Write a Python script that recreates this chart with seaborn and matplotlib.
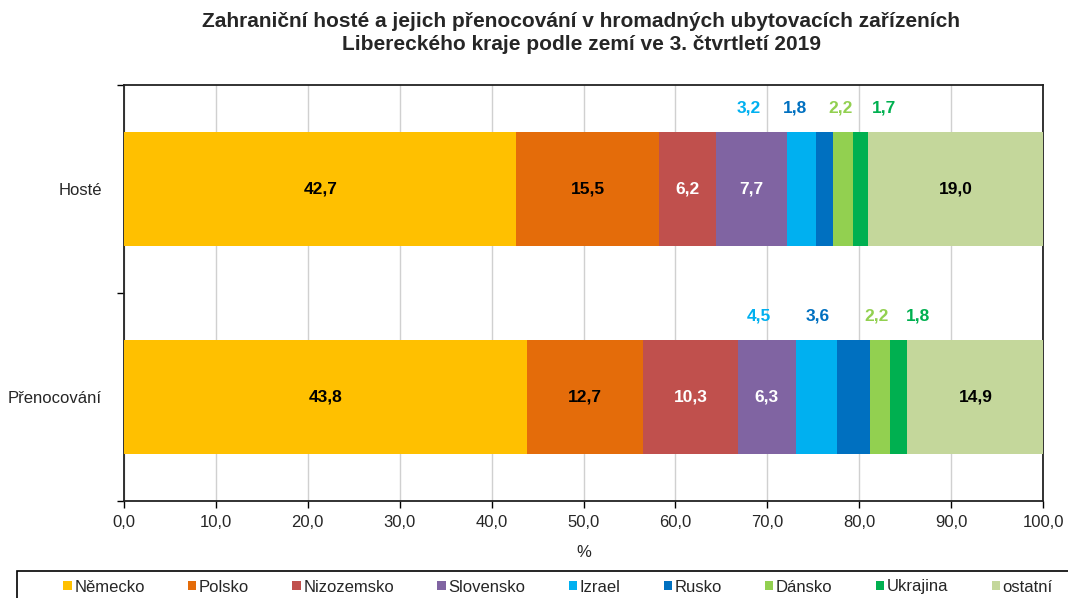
import numpy as np
import pandas as pd
import seaborn as sns
import matplotlib.pyplot as plt
from matplotlib.patches import Patch, Rectangle
from matplotlib.ticker import FuncFormatter, FixedLocator

# data
categories = ["Hosté", "Přenocování"]
countries = ["Německo", "Polsko", "Nizozemsko", "Slovensko", "Izrael",
             "Rusko", "Dánsko", "Ukrajina", "ostatní"]
hoste = [42.7, 15.5, 6.2, 7.7, 3.2, 1.8, 2.2, 1.7, 19.0]
prenocovani = [43.8, 12.7, 10.3, 6.3, 4.5, 3.6, 2.2, 1.8, 14.9]

colors = ["#FFC000", "#E46C0A", "#C0504D", "#8064A2", "#00B0F0",
          "#0070C0", "#92D050", "#00B050", "#C4D79B"]
# label colour inside the bar (None = label drawn above the bar)
inner_text = ["black", "black", "white", "white", None, None, None, None, "black"]
# horizontal shift of the outside labels (data units), per category
outside_dx = {"Hosté": [0, 0, 0, 0, -5.7, -3.2, -0.2, 2.6, 0],
              "Přenocování": [0, 0, 0, 0, -6.3, -3.9, -0.4, 2.1, 0]}

df = pd.DataFrame({"kategorie": np.repeat(categories, len(countries)),
                   "zeme": countries * 2,
                   "podil": hoste + prenocovani})
df["kumul"] = df.groupby("kategorie", sort=False)["podil"].cumsum()
df["start"] = df["kumul"] - df["podil"]

sns.set_style("white")
plt.rcParams["font.family"] = ["Liberation Sans", "DejaVu Sans"]

fig = plt.figure(figsize=(10.68, 5.98), dpi=100)
ax = fig.add_axes([124 / 1068, 1 - 501 / 598, (1043 - 124) / 1068, (501 - 85) / 598])

# stacked bars: draw cumulative totals from the last segment to the first
for i in reversed(range(len(countries))):
    sub = df[df["zeme"] == countries[i]]
    sns.barplot(data=sub, x="kumul", y="kategorie", order=categories,
                color=colors[i], width=0.55, orient="h", ax=ax,
                saturation=1, linewidth=0, zorder=3)

for _, r in df.iterrows():
    yi = categories.index(r["kategorie"])
    ci = countries.index(r["zeme"])
    txt = f"{r['podil']:.1f}".replace(".", ",")
    if inner_text[ci] is not None:
        ax.text(r["start"] + r["podil"] / 2, yi, txt, ha="center", va="center",
                fontsize=12.5, fontweight="bold", color=inner_text[ci], zorder=5)
    else:
        ax.text(r["start"] + r["podil"] / 2 + outside_dx[r["kategorie"]][ci], yi - 0.39,
                txt, ha="center", va="center", fontsize=12.5, fontweight="bold",
                color=colors[ci], zorder=5)

ax.set_xlim(0, 100)
ax.set_ylim(1.5, -0.5)
ax.set_xticks(np.arange(0, 101, 10))
ax.xaxis.set_major_formatter(FuncFormatter(lambda v, p: f"{v:.1f}".replace(".", ",")))
ax.grid(axis="x", color="#D0D0D0", linewidth=1, zorder=0)
ax.set_axisbelow(True)
ax.yaxis.set_minor_locator(FixedLocator([-0.5, 0.5, 1.5]))
ax.tick_params(axis="y", which="major", length=0, labelsize=12, pad=16)
ax.tick_params(axis="y", which="minor", left=True, length=5, width=1, color="black")
ax.tick_params(axis="x", bottom=True, length=5, width=1, color="black",
               labelsize=12, pad=5)
for s in ax.spines.values():
    s.set_color("#222222")
    s.set_linewidth(1.3)
ax.set_ylabel("")
ax.set_xlabel("%", fontsize=12, labelpad=11)

fig.text(581 / 1068, 1 - 33 / 598,
         "Zahraniční hosté a jejich přenocování v hromadných ubytovacích zařízeních\n"
         "Libereckého kraje podle zemí ve 3. čtvrtletí 2019",
         ha="center", va="center", fontsize=15, fontweight="bold", linespacing=1.25)

# legend box (runs off the right and bottom edge as in the original)
fig.add_artist(Rectangle((17 / 1068, -0.1), 1.2, 0.1 + 1 - 571 / 598,
                         transform=fig.transFigure, fill=False,
                         edgecolor="black", linewidth=1.2))
handles = [Patch(facecolor=c, edgecolor="none") for c in colors]
fig.legend(handles, countries, loc="center left", ncol=9,
           bbox_to_anchor=(55 / 1068, 1 - 587 / 598), fontsize=12,
           handlelength=0.5, handleheight=0.5, handletextpad=0.15,
           columnspacing=2.6, borderpad=0, frameon=False)

fig.savefig("out.png", dpi=100)
